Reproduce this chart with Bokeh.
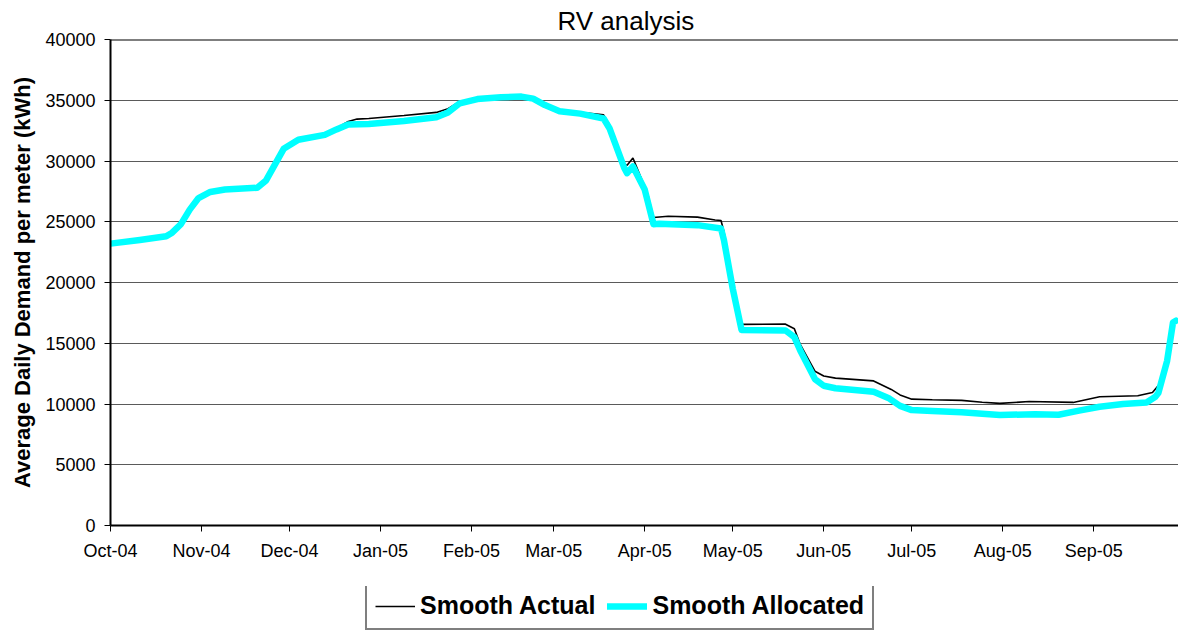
import pandas as pd
from bokeh.plotting import figure
from bokeh.layouts import column
from bokeh.models import (FixedTicker, NumeralTickFormatter, Span, Range1d, Legend,
                          LegendItem, ColumnDataSource)
from bokeh.embed import file_html
from bokeh.resources import INLINE

# ---------------- data ----------------
actual_dates = [
    "2004-10-01", "2004-10-11", "2004-10-20", "2004-10-22", "2004-10-25", "2004-10-28",
    "2004-10-31", "2004-11-04", "2004-11-09", "2004-11-20", "2004-11-23", "2004-11-26",
    "2004-11-29", "2004-12-04", "2004-12-13", "2004-12-17", "2004-12-21", "2004-12-24",
    "2004-12-28", "2005-01-09", "2005-01-20", "2005-01-24", "2005-01-28", "2005-02-03",
    "2005-02-11", "2005-02-18", "2005-02-22", "2005-02-26", "2005-03-03", "2005-03-10",
    "2005-03-18", "2005-03-20", "2005-03-25", "2005-03-26", "2005-03-28", "2005-04-02",
    "2005-04-04", "2005-04-09", "2005-04-19", "2005-04-25", "2005-04-27", "2005-04-28",
    "2005-05-01", "2005-05-04", "2005-05-19", "2005-05-22", "2005-05-24", "2005-05-29",
    "2005-06-01", "2005-06-05", "2005-06-18", "2005-06-24", "2005-06-27", "2005-07-01",
    "2005-07-08", "2005-07-18", "2005-07-25", "2005-07-31", "2005-08-10", "2005-08-25",
    "2005-09-03", "2005-09-16", "2005-09-21", "2005-09-24", "2005-09-26", "2005-09-28",
    "2005-09-29",
]
actual_values = [
    23200, 23500, 23800, 24100, 24800, 26000,
    27000, 27500, 27700, 27850, 28450, 29700,
    31050, 31800, 32200, 32700, 33250, 33450,
    33500, 33750, 34000, 34300, 34900, 35150,
    35300, 35320, 35150, 34650, 34200, 34000,
    33800, 33000, 29700, 29650, 30250, 27300,
    25350, 25450, 25380, 25150, 25100, 24200,
    19700, 16550, 16570, 16200, 14900, 12700,
    12300, 12130, 11900, 11200, 10750, 10400,
    10350, 10300, 10150, 10050, 10200, 10130,
    10600, 10680, 10950, 11800, 13550, 16700,
    16850,
]

allocated_dates = [
    "2004-10-01", "2004-10-11", "2004-10-20", "2004-10-22", "2004-10-25", "2004-10-28",
    "2004-10-31", "2004-11-04", "2004-11-09", "2004-11-20", "2004-11-23", "2004-11-26",
    "2004-11-29", "2004-12-04", "2004-12-13", "2004-12-17", "2004-12-21", "2004-12-28",
    "2005-01-09", "2005-01-20", "2005-01-24", "2005-01-28", "2005-02-03", "2005-02-11",
    "2005-02-18", "2005-02-22", "2005-02-26", "2005-03-03", "2005-03-10", "2005-03-18",
    "2005-03-20", "2005-03-25", "2005-03-26", "2005-03-28", "2005-04-01", "2005-04-04",
    "2005-04-06", "2005-04-19", "2005-04-27", "2005-04-28", "2005-05-01", "2005-05-04",
    "2005-05-19", "2005-05-22", "2005-05-24", "2005-05-29", "2005-06-01", "2005-06-05",
    "2005-06-18", "2005-06-23", "2005-06-27", "2005-07-01", "2005-07-08", "2005-07-18",
    "2005-07-25", "2005-07-31", "2005-08-12", "2005-08-20", "2005-08-27", "2005-09-03",
    "2005-09-11", "2005-09-19", "2005-09-22", "2005-09-23", "2005-09-26", "2005-09-28",
    "2005-09-29",
]
allocated_values = [
    23200, 23500, 23800, 24100, 24800, 26000,
    26950, 27450, 27650, 27800, 28400, 29700,
    31000, 31750, 32150, 32600, 33000, 33050,
    33300, 33600, 34000, 34750, 35100, 35250,
    35300, 35130, 34600, 34100, 33900, 33500,
    32700, 29450, 29000, 29550, 27650, 24800,
    24830, 24720, 24450, 23500, 19500, 16100,
    16050, 15500, 14400, 12050, 11500, 11300,
    11000, 10500, 9850, 9500, 9420, 9320,
    9200, 9100, 9150, 9120, 9450, 9770,
    10000, 10130, 10600, 10900, 13550, 16700,
    16850,
]

series_names = ["Smooth Actual", "Smooth Allocated"]

tick_dates = ["2004-10-01", "2004-11-01", "2004-12-01", "2005-01-01", "2005-02-01",
              "2005-03-01", "2005-04-01", "2005-05-01", "2005-06-01", "2005-07-01",
              "2005-08-01", "2005-09-01"]
tick_labels = ["Oct-04", "Nov-04", "Dec-04", "Jan-05", "Feb-05", "Mar-05",
               "Apr-05", "May-05", "Jun-05", "Jul-05", "Aug-05", "Sep-05"]
y_ticks = [0, 5000, 10000, 15000, 20000, 25000, 30000, 35000, 40000]

# ---------------- styles ----------------
FONT = "Liberation Sans"
ACTUAL_STYLE = dict(line_color="black", line_width=1.6)
ALLOC_STYLE = dict(line_color="#00FFFF", line_width=6.5, line_join="round", line_cap="round")

x_start = pd.Timestamp("2004-10-01")
x_end = pd.Timestamp("2005-09-29 21:00")

# ---------------- main chart ----------------
p = figure(width=1178, height=586, x_axis_type="datetime",
           output_backend="svg", toolbar_location=None,
           x_range=Range1d(x_start, x_end), y_range=Range1d(0, 40000),
           min_border_left=110, min_border_right=0, min_border_top=38,
           min_border_bottom=61, background_fill_color="white",
           border_fill_color="white", outline_line_color=None)

p.title.text = "RV analysis"
p.title.text_font = FONT
p.title.text_font_size = "26px"
p.title.text_font_style = "normal"
p.title.text_color = "black"
p.title.align = "left"
p.title.offset = 447
p.title.standoff = 7

ad = pd.to_datetime(actual_dates)
ld = pd.to_datetime(allocated_dates)
p.line(ad, actual_values, **ACTUAL_STYLE)
p.line(ld, allocated_values, **ALLOC_STYLE)

p.xgrid.grid_line_color = None
p.ygrid.grid_line_color = "#5a5a5a"
p.ygrid.grid_line_width = 1
p.ygrid.ticker = FixedTicker(ticks=y_ticks)
p.add_layout(Span(location=40000, dimension="width", line_color="black", line_width=2))

tick_ms = [pd.Timestamp(d).value // 10**6 for d in tick_dates]
xa = p.xaxis[0]
xa.ticker = FixedTicker(ticks=tick_ms)
xa.major_label_overrides = {t: l for t, l in zip(tick_ms, tick_labels)}
ya = p.yaxis[0]
ya.ticker = FixedTicker(ticks=y_ticks)
ya.formatter = NumeralTickFormatter(format="0")
ya.axis_label = "Average Daily Demand per meter (kWh)"
ya.axis_label_text_font = FONT
ya.axis_label_text_font_size = "22px"
ya.axis_label_text_font_style = "bold"
ya.axis_label_text_color = "black"
ya.axis_label_standoff = 7

for ax in (xa, ya):
    ax.axis_line_color = "black"
    ax.axis_line_width = 2
    ax.major_tick_line_color = "black"
    ax.major_tick_line_width = 1
    ax.major_tick_out = 6
    ax.major_tick_in = 0
    ax.minor_tick_line_color = None
    ax.major_label_text_font = FONT
    ax.major_label_text_font_size = "18px"
    ax.major_label_text_color = "black"
    ax.major_label_standoff = 9

# ---------------- legend strip below ----------------
q = figure(width=1178, height=44, output_backend="svg", toolbar_location=None,
           x_range=Range1d(0, 1), y_range=Range1d(0, 1),
           x_axis_location=None, y_axis_location=None,
           min_border_left=0, min_border_right=0, min_border_top=0, min_border_bottom=0,
           background_fill_color="white", border_fill_color="white",
           outline_line_color=None)
q.grid.visible = False
# legend-only renderers: their points lie outside the strip's visible range
proxy = ColumnDataSource(data=dict(x=[5, 6], y=[5, 6]))
r1 = q.line("x", "y", source=proxy, **ACTUAL_STYLE)
r2 = q.line("x", "y", source=proxy, **ALLOC_STYLE)
lg = Legend(items=[LegendItem(label=series_names[0], renderers=[r1]),
                   LegendItem(label=series_names[1], renderers=[r2])],
            orientation="horizontal", location=(255, 0),
            label_text_font=FONT, label_text_font_size="25px",
            label_text_font_style="bold", label_text_color="black",
            label_text_line_height=1.0,
            label_height=24, glyph_height=24, glyph_width=40, label_standoff=5,
            spacing=12, padding=8, margin=0,
            border_line_color="black", border_line_width=2,
            background_fill_color="white", background_fill_alpha=1)
q.add_layout(lg, "center")

layout = column(p, q, spacing=0)
open("out.html", "w").write(file_html(layout, INLINE))
